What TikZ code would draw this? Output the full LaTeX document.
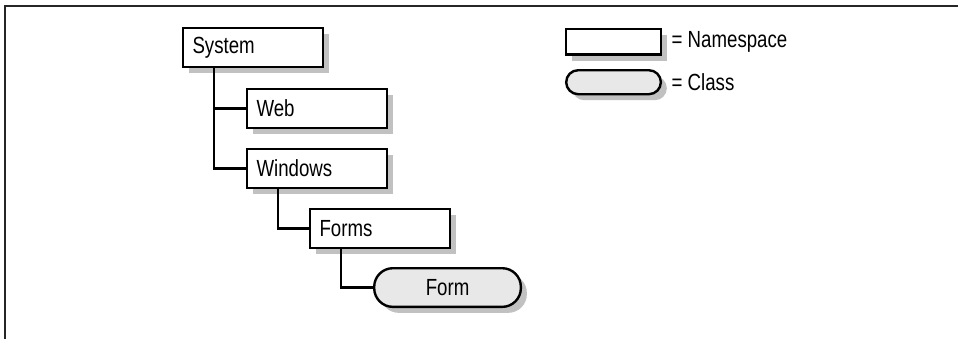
\documentclass[tikz,border=0pt]{standalone}
\usepackage{fontspec}
\setmainfont{Liberation Sans}[FakeStretch=0.8]
\usetikzlibrary{shadows}

\tikzset{
    schatten/.style={drop shadow={shadow xshift=4.5pt, shadow yshift=-4.5pt, fill=black!30, opacity=.8}},
    namensraum/.style={draw, line width=1.8pt, fill=white, schatten, minimum width=105pt, minimum height=29pt,
        text width=91pt, inner xsep=7pt, align=left, font=\fontsize{17.5}{20}\selectfont},
    klasse/.style={draw, line width=1.8pt, fill=black!9, schatten, rounded corners=14pt, minimum width=110pt,
        minimum height=29pt, font=\fontsize{17.5}{20}\selectfont},
    verbindung/.style={line width=1.8pt},
    legende/.style={anchor=west, inner sep=0pt, font=\fontsize{17.5}{20}\selectfont}
}

\begin{document}
\begin{tikzpicture}[x=0.75pt, y=-0.75pt]

        \useasboundingbox (0,0) rectangle (958,339);

        % Rahmen
        \draw [line width=1.5pt, black!85] (5,339) -- (5,5.5) -- (958,5.5);

        % Baum
        \node [namensraum, anchor=north west] (system) at (182,27) {System};
        \node [namensraum, anchor=north west] (web) at (246,88) {Web};
        \node [namensraum, anchor=north west] (windows) at (246,148) {Windows};
        \node [namensraum, anchor=north west] (forms) at (309,208) {Forms};
        \node [klasse, anchor=north west] (form) at (373,267) {Form};

        \draw [verbindung] ([xshift=24pt]system.south west) |- (web.west);
        \draw [verbindung] ([xshift=24pt]system.south west) |- (windows.west);
        \draw [verbindung] ([xshift=24pt]windows.south west) |- (forms.west);
        \draw [verbindung] ([xshift=24pt]forms.south west) |- (form.west);

        % Legende
        \node [namensraum, anchor=north west, minimum width=71pt, text width=57pt, minimum height=19pt] (nsbox) at (565,28) {};
        \node [klasse, anchor=north west, minimum width=71pt, minimum height=18pt, rounded corners=9pt] (klbox) at (565,69) {};
        \node [legende] (nstext) at ([xshift=7pt]nsbox.east) {= Namespace};
        \node [legende] (kltext) at ([xshift=7pt]klbox.east) {= Class};

\end{tikzpicture}
\end{document}
